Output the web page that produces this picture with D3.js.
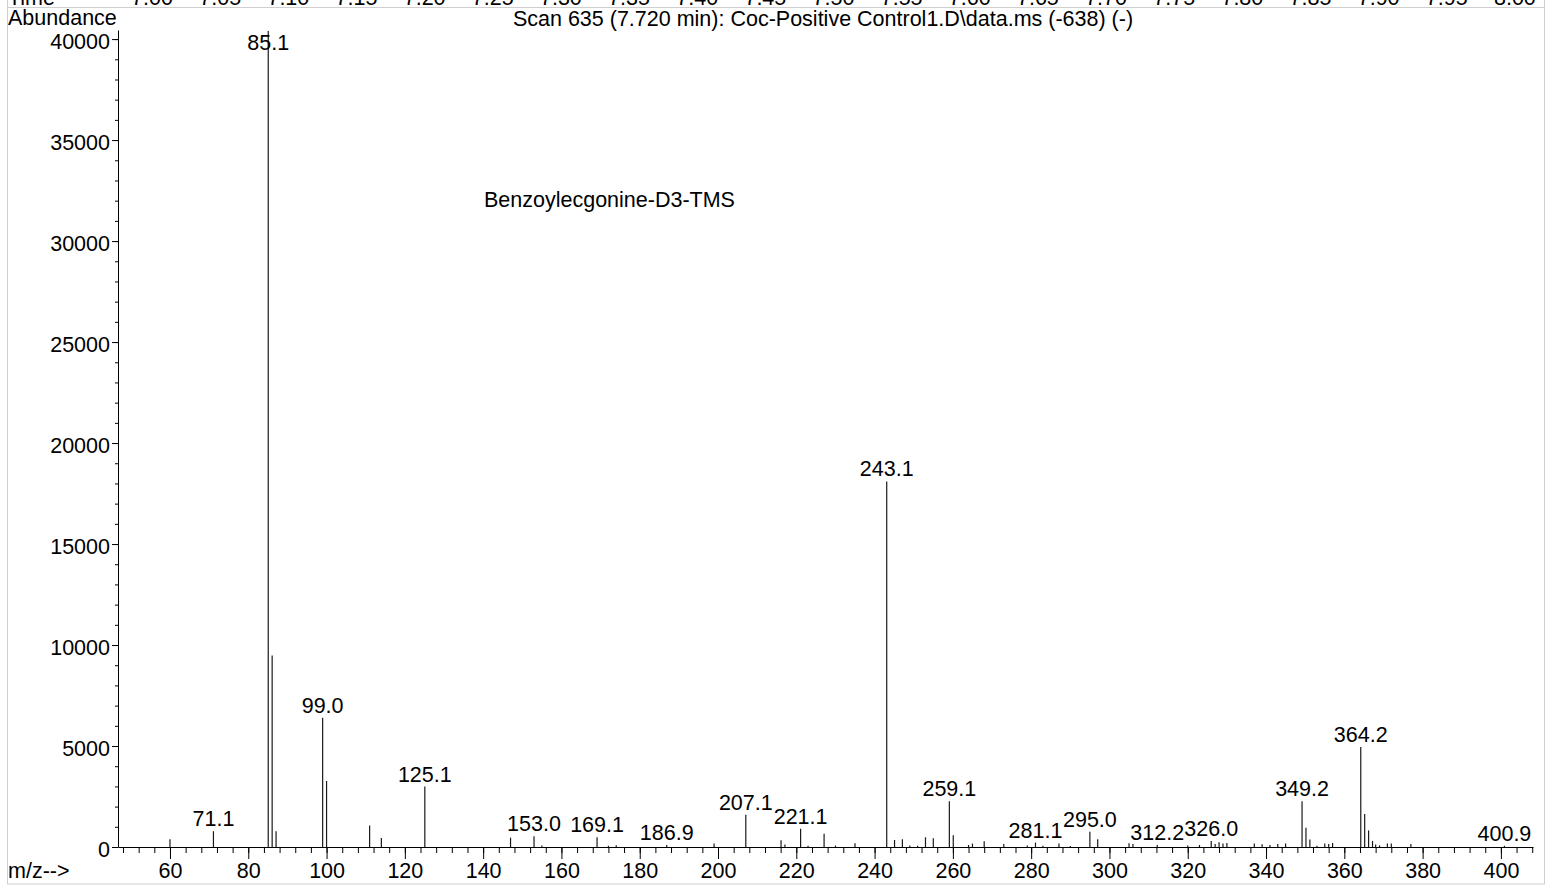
<!DOCTYPE html>
<html>
<head>
<meta charset="utf-8">
<script src="https://cdn.jsdelivr.net/npm/d3@7"></script>
<style>
body { margin: 0; background: #fff; }
svg { display: block; font-family: "Liberation Sans", Arial, sans-serif; }
</style>
</head>
<body>
<div class="spectrum"></div>
<script>
var peakMz = [60.0, 71.1, 85.1, 86.1, 87.1, 99.0, 100.0, 111.0, 114.0, 125.1,
              147.0, 153.0, 155.0, 169.1, 172.0, 174.0, 186.9, 199.0, 207.1, 216.1,
              217.1, 221.1, 223.0, 227.1, 230.0, 235.0, 243.1, 245.1, 247.1, 249.0,
              251.0, 253.0, 255.0, 259.1, 260.1, 264.0, 265.0, 268.0, 273.0, 279.0,
              281.1, 283.0, 287.1, 290.0, 295.0, 297.0, 305.0, 306.0, 312.2, 320.0,
              323.0, 326.0, 327.0, 328.0, 329.0, 330.0, 337.0, 339.0, 341.0, 343.0,
              345.0, 349.2, 350.2, 351.2, 353.0, 355.0, 356.0, 357.0, 364.2, 365.2,
              366.2, 367.2, 368.0, 369.0, 371.0, 372.0, 377.0, 400.9];

var peakAbundance = [380, 780, 40400, 9480, 780, 6400, 3270, 1060, 445, 2990,
                     465, 530, 80, 480, 60, 90, 100, 170, 1600, 330,
                     120, 900, 60, 660, 70, 190, 18100, 350, 380, 80,
                     60, 480, 430, 2260, 580, 100, 170, 280, 150, 80,
                     220, 60, 170, 50, 760, 380, 180, 150, 100, 80,
                     100, 300, 150, 230, 170, 200, 170, 140, 100, 150,
                     170, 2270, 950, 370, 60, 170, 150, 200, 4950, 1630,
                     820, 300, 120, 80, 170, 170, 150, 60];

var labelMz = [71.1, 85.1, 99.0, 125.1, 153.0, 169.1, 186.9, 207.1, 221.1, 243.1,
               259.1, 281.1, 295.0, 312.2, 326.0, 349.2, 364.2, 400.9];

var yMajorTicks = [0, 5000, 10000, 15000, 20000, 25000, 30000, 35000, 40000];
var xMajorTicks = [60, 80, 100, 120, 140, 160, 180, 200, 220, 240, 260, 280, 300, 320, 340, 360, 380, 400];
var timeLabels = ["7.00", "7.05", "7.10", "7.15", "7.20", "7.25", "7.30", "7.35", "7.40", "7.45", "7.50",
                  "7.55", "7.60", "7.65", "7.70", "7.75", "7.80", "7.85", "7.90", "7.95", "8.00"];

var width = 1551, height = 888;
var fontSize = "21.5px";

var peaks = peakMz.map(function(m, i) { return {mz: m, ab: peakAbundance[i]}; });

var x = d3.scaleLinear().domain([46.72, 408.2]).range([118, 1533]);
var y = d3.scaleLinear().domain([0, 40450]).range([847, 30]);
var t = d3.scaleBand().domain(timeLabels).range([118, 1549]);

var svg = d3.select(".spectrum")
            .append("svg")
            .attr("width", width)
            .attr("height", height);

svg.append("rect")
   .attr("x", 7.5).attr("y", -20)
   .attr("width", 1537).attr("height", 27.5)
   .attr("fill", "none").attr("stroke", "#cfcfcf")

svg.append("rect")
   .attr("x", 7.5).attr("y", 7.5)
   .attr("width", 1537).attr("height", 876.5)
   .attr("fill", "none").attr("stroke", "#cfcfcf")

// strip of the previous panel's time axis, cut by the top edge as in the original
svg.append("text")
   .text("Time")
   .attr("x", 8).attr("y", 4.5)
   .attr("font-size", fontSize)

svg.selectAll("text.time")
   .data(timeLabels)
   .enter()
   .append("text")
   .attr("class", "time")
   .text(function(d) { return d; })
   .attr("x", function(d) { return t(d) + t.bandwidth() / 2; })
   .attr("y", 4.5)
   .attr("text-anchor", "middle")
   .attr("font-size", fontSize)

svg.append("text")
   .text("Abundance")
   .attr("x", 8).attr("y", 25)
   .attr("font-size", fontSize)

svg.append("text")
   .text("Scan 635 (7.720 min): Coc-Positive Control1.D\\data.ms (-638) (-)")
   .attr("x", 823).attr("y", 25.5)
   .attr("text-anchor", "middle")
   .attr("font-size", fontSize)

svg.append("text")
   .text("Benzoylecgonine-D3-TMS")
   .attr("x", 484).attr("y", 207)
   .attr("font-size", fontSize)

svg.append("text")
   .text("m/z-->")
   .attr("x", 8).attr("y", 877.5)
   .attr("font-size", fontSize)

// y axis: labelled every 5000, small ticks every 1000
svg.append("g")
   .attr("transform", "translate(118,0)")
   .call(d3.axisLeft(y).tickValues(d3.range(0, 40001, 1000)).tickSize(3).tickSizeOuter(0).tickFormat(""))
   .call(function(g) { g.selectAll("line").attr("stroke", "#000"); g.select(".domain").attr("stroke", "#000"); })

svg.append("g")
   .attr("transform", "translate(118,0)")
   .call(d3.axisLeft(y).tickValues(yMajorTicks).tickSize(6).tickSizeOuter(0).tickPadding(2).tickFormat(d3.format("d")))
   .call(function(g) {
      g.select(".domain").remove();
      g.selectAll("line").attr("stroke", "#000");
      g.selectAll("text").attr("font-size", fontSize).attr("font-family", "inherit").attr("fill", "#000").attr("dy", "0.42em");
   })

// x axis: labelled every 20, small ticks every 4
svg.append("g")
   .attr("transform", "translate(0,847)")
   .call(d3.axisBottom(x).tickValues(d3.range(48, 409, 4)).tickSize(6).tickSizeOuter(0).tickFormat(""))
   .call(function(g) { g.selectAll("line").attr("stroke", "#000"); g.select(".domain").attr("stroke", "#000"); })

svg.append("g")
   .attr("transform", "translate(0,847)")
   .call(d3.axisBottom(x).tickValues(xMajorTicks).tickSize(12).tickSizeOuter(0).tickPadding(3.5))
   .call(function(g) {
      g.select(".domain").remove();
      g.selectAll("line").attr("stroke", "#000");
      g.selectAll("text").attr("font-size", fontSize).attr("font-family", "inherit").attr("fill", "#000");
   })

svg.selectAll("line.peak")
   .data(peaks)
   .enter()
   .append("line")
   .attr("class", "peak")
   .attr("x1", function(d) { return x(d.mz); })
   .attr("x2", function(d) { return x(d.mz); })
   .attr("y1", y(0))
   .attr("y2", function(d) { return y(d.ab); })
   .attr("stroke", "#1a1a1a")
   .attr("stroke-width", 1.2)

svg.selectAll("text.peak-label")
   .data(peaks.filter(function(d) { return labelMz.indexOf(d.mz) !== -1; }))
   .enter()
   .append("text")
   .attr("class", "peak-label")
   .text(function(d) { return d.mz.toFixed(1); })
   .attr("x", function(d) { return x(d.mz); })
   .attr("y", function(d) { return Math.max(y(d.ab) - 5, 50); })
   .attr("text-anchor", "middle")
   .attr("font-size", fontSize)
</script>
</body>
</html>
